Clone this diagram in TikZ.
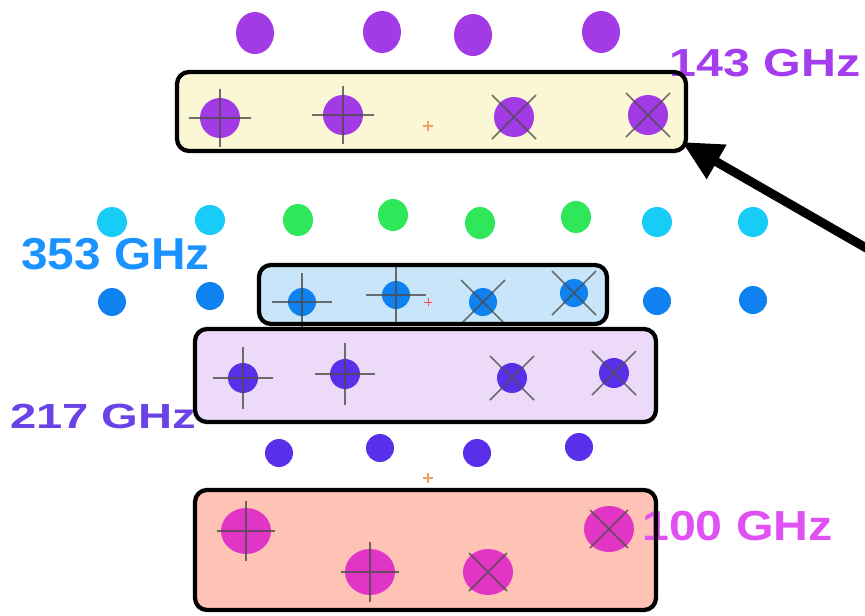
\documentclass[tikz,border=0pt]{standalone}
\usepackage{fontspec}
\setmainfont{Liberation Sans}
\usepackage{graphicx}
\usetikzlibrary{arrows.meta,calc,fit}

\definecolor{dotA}{HTML}{A23BE5}
\definecolor{txtA}{HTML}{A43DF0}
\definecolor{dotCyan}{HTML}{18CCF8}
\definecolor{dotGreen}{HTML}{2EE85A}
\definecolor{dotB}{HTML}{1081F0}
\definecolor{txtB}{HTML}{1A92FF}
\definecolor{dotC}{HTML}{5A2FEA}
\definecolor{txtC}{HTML}{6A42E6}
\definecolor{dotD}{HTML}{E035C5}
\definecolor{txtD}{HTML}{E050F2}
\definecolor{bgYellow}{HTML}{FBF7D4}
\definecolor{bgBlue}{HTML}{C9E5F9}
\definecolor{bgLav}{HTML}{EDDAF8}
\definecolor{bgPink}{HTML}{FFC3B6}
\definecolor{tick}{HTML}{F0A060}

\begin{document}
\begin{tikzpicture}[x=0.75pt,y=-0.75pt,
  panel/.style={inner sep=0pt,outer sep=0pt,rounded corners=9pt},
  frame/.style={draw=black,line width=3.2pt,rounded corners=9pt},
  hair/.style={draw=black!70,line width=1.2pt,opacity=0.8},
  tickmark/.style={draw=tick,line width=0.8pt},
  band/.style={inner sep=0pt,anchor=west,font=\bfseries},
  pointer/.style={line width=6.75pt,-{Triangle[length=30pt,width=28pt]}}
]
\useasboundingbox (0,0) rectangle (865,615);

% --- panel backgrounds
\node[panel,fill=bgYellow,fit={(177,72) (686,151)}] (ybox) {};
\node[panel,fill=bgBlue,fit={(259,265) (607,324)}] (bbox) {};
\node[panel,fill=bgLav,fit={(195,329) (656,422)}] (lbox) {};
\node[panel,fill=bgPink,fit={(195,490) (656,610)}] (pbox) {};

% --- 143 GHz horns
\foreach \x/\y in {255/33,382/32,473/35,601/32}
  \fill[dotA] (\x,\y) ellipse [x radius=19,y radius=21];
\foreach \x/\y in {220/118,343/115,514/117,648/115}
  \fill[dotA] (\x,\y) ellipse [x radius=20,y radius=20];
\foreach \x/\y in {220/118,343/115}
  \draw[hair] (\x-31,\y) -- (\x+31,\y) (\x,\y-29) -- (\x,\y+29);
\foreach \x/\y in {514/117,648/115}
  \draw[hair] (\x-22,\y-22) -- (\x+22,\y+22) (\x-22,\y+22) -- (\x+22,\y-22);

% --- 545/857 and 353 GHz rows
\foreach \x/\y in {112/222,210/220,657/222,753/222}
  \fill[dotCyan] (\x,\y) ellipse [x radius=15,y radius=15];
\foreach \x/\y in {298/220,393/215,480/223,576/217}
  \fill[dotGreen] (\x,\y) ellipse [x radius=15,y radius=16];
\foreach \x/\y in {112/302,210/296,302/302,396/295,483/302,574/293,657/301,753/300}
  \fill[dotB] (\x,\y) ellipse [x radius=14,y radius=14];
\foreach \x/\y in {302/302,396/295}
  \draw[hair] (\x-30,\y) -- (\x+30,\y) (\x,\y-29) -- (\x,\y+29);
\foreach \x/\y in {483/302,574/293}
  \draw[hair] (\x-22,\y-22) -- (\x+22,\y+22) (\x-22,\y+22) -- (\x+22,\y-22);

% --- 217 GHz rows
\foreach \x/\y in {243/378,345/374,512/378,614/373}
  \fill[dotC] (\x,\y) ellipse [x radius=15,y radius=15];
\foreach \x/\y in {243/378,345/374}
  \draw[hair] (\x-30,\y) -- (\x+30,\y) (\x,\y-31) -- (\x,\y+31);
\foreach \x/\y in {512/378,614/373}
  \draw[hair] (\x-22,\y-22) -- (\x+22,\y+22) (\x-22,\y+22) -- (\x+22,\y-22);
\foreach \x/\y in {279/453,380/448,477/453,579/447}
  \fill[dotC] (\x,\y) ellipse [x radius=14,y radius=14];

% --- 100 GHz horns
\foreach \x/\y in {246/531,370/572,488/572,609/529}
  \fill[dotD] (\x,\y) ellipse [x radius=25,y radius=23];
\foreach \x/\y in {246/531,370/572}
  \draw[hair] (\x-29,\y) -- (\x+29,\y) (\x,\y-30) -- (\x,\y+30);
\foreach \x/\y in {488/572,609/529}
  \draw[hair] (\x-19,\y-19) -- (\x+19,\y+19) (\x-19,\y+19) -- (\x+19,\y-19);

% --- small centre ticks
\foreach \y in {126,478}
  \draw[tickmark] (428-5,\y) -- (428+5,\y) (428,\y-5) -- (428,\y+5);
\draw[draw=red!70,line width=0.7pt] (424,302) -- (432,302) (428,298) -- (428,306);

% --- band labels
\node[band,text=txtA] (l143) at (669,63)
  {\fontsize{29.3pt}{30pt}\selectfont\scalebox{1.24}[1]{143 GHz}};
\node[band,text=txtB] (l353) at (21,254)
  {\fontsize{33.5pt}{34pt}\selectfont\scalebox{1.07}[1]{353 GHz}};
\node[band,text=txtC] (l217) at (10,416)
  {\fontsize{26.2pt}{27pt}\selectfont\scalebox{1.35}[1]{217 GHz}};
\node[band,text=txtD] (l100) at (642,526)
  {\fontsize{31.5pt}{32pt}\selectfont\scalebox{1.15}[1]{100 GHz}};

% --- panel outlines
\foreach \b in {ybox,bbox,lbox,pbox}
  \draw[frame] (\b.north west) rectangle (\b.south east);

% --- pointer
\coordinate (tail) at (868,249);
\draw[pointer] (tail) -- ($(ybox.south east)+(-4,-9)$);
\end{tikzpicture}
\end{document}
